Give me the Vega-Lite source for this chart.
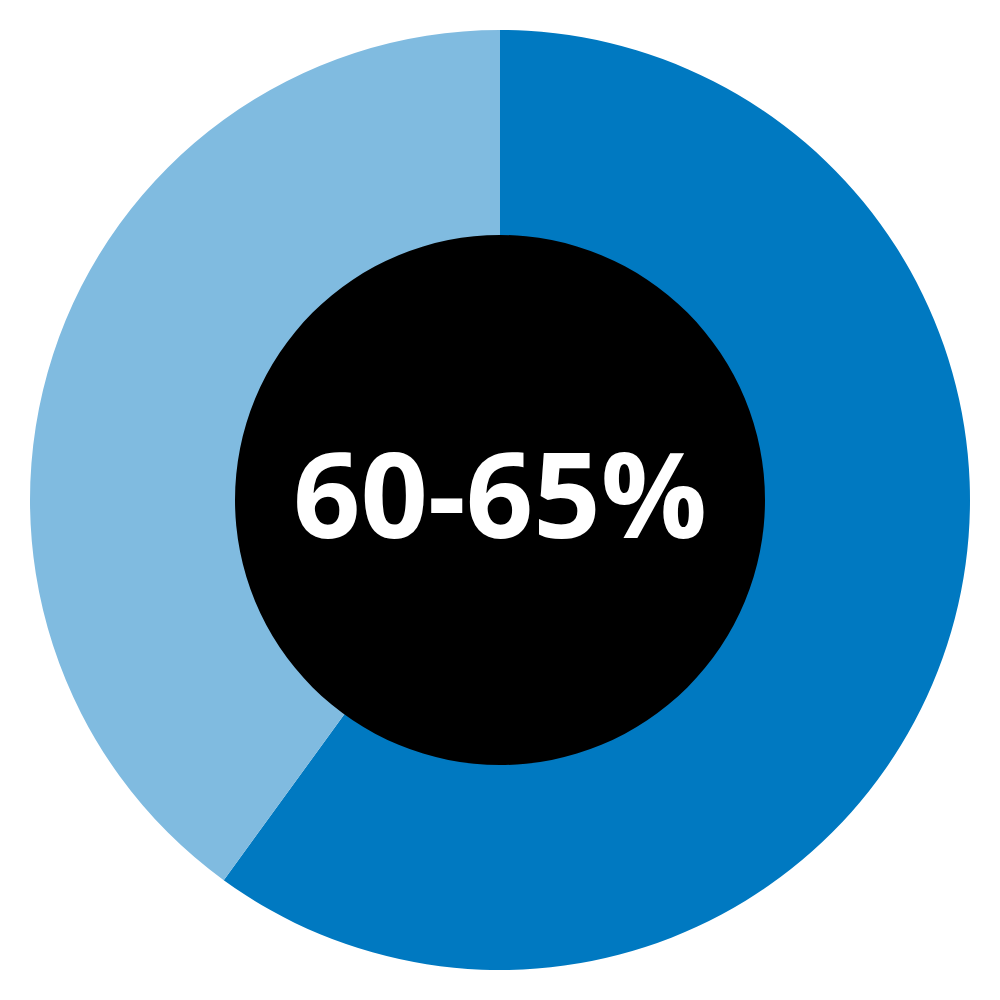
{
  "$schema": "https://vega.github.io/schema/vega-lite/v6.json",
  "autosize": {"type": "fit", "contains": "padding"},
  "width": 1000,
  "height": 1000,
  "padding": 0,
  "background": "white",
  "config": {"view": {"stroke": null}},
  "data": {"values": [
    {"category": "In range", "value": 60, "order": 1},
    {"category": "Other", "value": 40, "order": 2}
  ]},
  "layer": [
    {
      "mark": {"type": "arc", "outerRadius": 470, "innerRadius": 0},
      "encoding": {
        "theta": {"field": "value", "type": "quantitative", "stack": true},
        "order": {"field": "order", "type": "quantitative"},
        "color": {"field": "category", "type": "nominal", "scale": {"domain": ["In range", "Other"], "range": ["#0079C1", "#80BBE0"]}, "legend": null}
      }
    },
    {
      "data": {"values": [{"label": "60-65%"}]},
      "mark": {"type": "arc", "outerRadius": 265, "innerRadius": 0, "theta": 6.2832, "color": "black"},
      "encoding": {}
    },
    {
      "data": {"values": [{"label": "60-65%"}]},
      "mark": {"type": "text", "font": "Open Sans", "fontWeight": "bold", "fontSize": 118, "color": "white", "baseline": "alphabetic", "align": "center", "dy": 38},
      "encoding": {"text": {"field": "label", "type": "nominal"}}
    }
  ]
}
